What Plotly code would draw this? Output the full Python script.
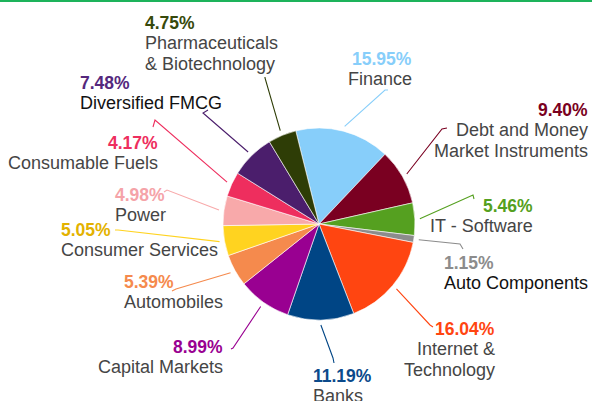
import math
import plotly.graph_objects as go

# ---------------- data ----------------
categories = [
    "Finance", "Debt and Money Market Instruments", "IT - Software", "Auto Components",
    "Internet & Technology", "Banks", "Capital Markets", "Automobiles",
    "Consumer Services", "Power", "Consumable Fuels", "Diversified FMCG",
    "Pharmaceuticals & Biotechnology",
]
values = [15.95, 9.40, 5.46, 1.15, 16.04, 11.19, 8.99, 5.39, 5.05, 4.98, 4.17, 7.48, 4.75]

# ---------------- styles ----------------
W, H = 592, 401
CX, CY, R = 319, 224, 96          # pie centre / radius in pixels
ROTATION = -14

slice_colors = ["#87cefa", "#7a0021", "#55a020", "#8c8c8c", "#ff4511", "#004585",
                "#990091", "#f58a4d", "#ffd320", "#f8a9aa", "#ee2e5e", "#4b1e6c", "#2e3d06"]
pct_colors = ["#87cefa", "#7a0021", "#55a020", "#8c8c8c", "#ff4511", "#0b4a8b",
              "#990091", "#f58a4d", "#e3b200", "#f5a3a8", "#ee2e5e", "#55287d", "#374a0c"]
GRAY, BLACK = "#454545", "#111111"
name_colors = [GRAY, GRAY, GRAY, BLACK, GRAY, GRAY, GRAY, GRAY, GRAY, GRAY, GRAY, BLACK, GRAY]

name_lines = {
    "Debt and Money Market Instruments": ["Debt and Money", "Market Instruments"],
    "Internet & Technology": ["Internet &amp;", "Technology"],
    "Pharmaceuticals & Biotechnology": ["Pharmaceuticals", "&amp; Biotechnology"],
}

# label placement (pixels): x, anchor, first line centre y, connector elbow, connector end
label_pos = [
    (414, "right", 59, (385, 90), (388, 90)),
    (590, "right", 110, (442, 129), (447, 128)),
    (535, "right", 206, (473, 195), (474, 199)),
    (442, "left", 263, (460, 244), (463, 249)),
    (497, "right", 329, (430, 325), (433, 327)),
    (311, "left", 376, (333, 358), (334, 363)),
    (225, "right", 347, (233, 348), (231, 349)),
    (122, "left", 282, (176, 289), (172, 291)),
    (59, "left", 230, (118, 230), (115, 230)),
    (140, "center", 195, (167, 190), (164, 192)),
    (160, "right", 143, (155, 120), (153, 127)),
    (78, "left", 83, (203, 113), (208, 110)),
    (143, "left", 23, (265, 78), (265, 77)),
]

FONT = "Liberation Sans, Arial, sans-serif"
LINE_GAP = 20.3


def px(x):
    return x / W


def py(y):
    return 1 - y / H


fig = go.Figure()
fig.add_trace(go.Pie(
    labels=categories,
    values=values,
    sort=False,
    direction="clockwise",
    rotation=ROTATION,
    marker=dict(colors=slice_colors, line=dict(color="white", width=0.6)),
    textinfo="none",
    hoverinfo="label+percent",
    showlegend=False,
    domain=dict(x=[px(CX - R), px(CX + R)], y=[py(CY + R), py(CY - R)]),
))

annotations = []
shapes = []
total = sum(values)
cum = 0.0
for i, (cat, v) in enumerate(zip(categories, values)):
    mid = ROTATION + 360 * (cum + v / 2) / total
    cum += v
    rad = math.radians(mid)
    sx = CX + (R + 5) * math.sin(rad)
    sy = CY - (R + 5) * math.cos(rad)
    x, anchor, y0, elbow, end = label_pos[i]
    pts = [(sx, sy), elbow, end]
    path = "M " + " L ".join(f"{px(a):.5f},{py(b):.5f}" for a, b in pts)
    shapes.append(dict(type="path", path=path, xref="paper", yref="paper",
                       line=dict(color=slice_colors[i], width=1.1)))
    lines = [f"<b>{v:.2f}%</b>"] + name_lines.get(cat, [cat])
    for j, t in enumerate(lines):
        annotations.append(dict(
            x=px(x), y=py(y0 + j * LINE_GAP), xref="paper", yref="paper",
            xanchor=anchor, yanchor="middle", showarrow=False, text=t,
            font=dict(family=FONT, size=18 if j else 17.5,
                      color=pct_colors[i] if j == 0 else name_colors[i]),
        ))

shapes.append(dict(type="line", xref="paper", yref="paper", x0=0, x1=1,
                   y0=py(1), y1=py(1), line=dict(color="#1db35b", width=2)))

fig.update_layout(
    width=W, height=H, autosize=False,
    margin=dict(l=0, r=0, t=0, b=0),
    paper_bgcolor="white", plot_bgcolor="white",
    annotations=annotations, shapes=shapes,
)

fig.write_html("out.html", config={"displayModeBar": False},
               post_script="document.body.style.margin='0';document.body.style.overflow='hidden';")
